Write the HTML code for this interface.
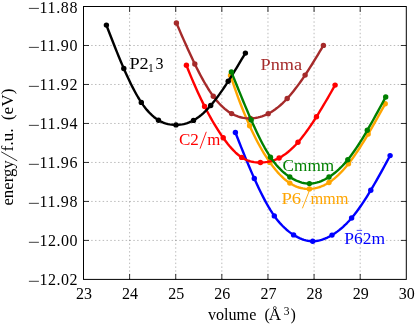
<!DOCTYPE html>
<html><head><meta charset="utf-8"><title>chart</title>
<style>
html,body{margin:0;padding:0;background:#fff;}
body{width:415px;height:326px;overflow:hidden;}
svg{display:block;}
text{font-family:"Liberation Serif",serif;font-size:16px;fill:#000;}
.g{stroke:#000;stroke-opacity:0.45;stroke-width:0.6;stroke-dasharray:1.5 2.33;fill:none;}
.t{stroke:#000;stroke-width:0.8;fill:none;}
</style></head><body>
<svg width="415" height="326" viewBox="0 0 415 326" style="will-change:transform">
<rect x="0" y="0" width="415" height="326" fill="#ffffff"/>
<line class="g" x1="129.61" y1="279.4" x2="129.61" y2="6.5"/>
<line class="g" x1="175.73" y1="279.4" x2="175.73" y2="6.5"/>
<line class="g" x1="221.84" y1="279.4" x2="221.84" y2="6.5"/>
<line class="g" x1="267.96" y1="279.4" x2="267.96" y2="6.5"/>
<line class="g" x1="314.07" y1="279.4" x2="314.07" y2="6.5"/>
<line class="g" x1="360.19" y1="279.4" x2="360.19" y2="6.5"/>
<line class="g" x1="83.5" y1="45.49" x2="406.3" y2="45.49"/>
<line class="g" x1="83.5" y1="84.47" x2="406.3" y2="84.47"/>
<line class="g" x1="83.5" y1="123.46" x2="406.3" y2="123.46"/>
<line class="g" x1="83.5" y1="162.44" x2="406.3" y2="162.44"/>
<line class="g" x1="83.5" y1="201.43" x2="406.3" y2="201.43"/>
<line class="g" x1="83.5" y1="240.41" x2="406.3" y2="240.41"/>
<path d="M235.40,132.50 L237.36,137.49 L239.32,142.46 L241.27,147.39 L243.23,152.26 L245.19,157.09 L247.15,161.84 L249.11,166.52 L251.07,171.12 L253.02,175.62 L254.98,180.02 L256.94,184.31 L258.90,188.47 L260.86,192.50 L262.82,196.39 L264.77,200.14 L266.73,203.72 L268.69,207.13 L270.65,210.37 L272.61,213.42 L274.56,216.27 L276.52,218.93 L278.48,221.38 L280.44,223.66 L282.40,225.76 L284.36,227.69 L286.31,229.47 L288.27,231.11 L290.23,232.61 L292.19,233.98 L294.15,235.24 L296.11,236.39 L298.06,237.42 L300.02,238.33 L301.98,239.13 L303.94,239.80 L305.90,240.34 L307.85,240.76 L309.81,241.04 L311.77,241.18 L313.73,241.18 L315.69,241.05 L317.65,240.78 L319.60,240.37 L321.56,239.85 L323.52,239.20 L325.48,238.43 L327.44,237.55 L329.39,236.57 L331.35,235.48 L333.31,234.29 L335.27,233.01 L337.23,231.62 L339.19,230.13 L341.14,228.53 L343.10,226.81 L345.06,224.98 L347.02,223.04 L348.98,220.97 L350.94,218.77 L352.89,216.45 L354.85,214.01 L356.81,211.44 L358.77,208.76 L360.73,205.98 L362.68,203.09 L364.64,200.11 L366.60,197.05 L368.56,193.90 L370.52,190.67 L372.48,187.38 L374.43,184.02 L376.39,180.60 L378.35,177.13 L380.31,173.62 L382.27,170.07 L384.23,166.49 L386.18,162.88 L388.14,159.25 L390.10,155.60" fill="none" stroke="#0000ff" stroke-width="2.4" stroke-linejoin="round" stroke-linecap="butt"/>
<circle cx="235.4" cy="132.5" r="2.7" fill="#0000ff"/>
<circle cx="254.3" cy="178.5" r="2.7" fill="#0000ff"/>
<circle cx="274.3" cy="215.9" r="2.7" fill="#0000ff"/>
<circle cx="293.6" cy="234.9" r="2.7" fill="#0000ff"/>
<circle cx="312.7" cy="241.2" r="2.7" fill="#0000ff"/>
<circle cx="332.0" cy="235.1" r="2.7" fill="#0000ff"/>
<circle cx="351.6" cy="218.0" r="2.7" fill="#0000ff"/>
<circle cx="370.8" cy="190.2" r="2.7" fill="#0000ff"/>
<circle cx="390.1" cy="155.6" r="2.7" fill="#0000ff"/>
<path d="M230.50,75.50 L232.46,81.40 L234.42,87.12 L236.37,92.66 L238.33,98.04 L240.29,103.24 L242.25,108.27 L244.21,113.14 L246.17,117.85 L248.12,122.39 L250.08,126.76 L252.04,130.98 L254.00,135.04 L255.96,138.95 L257.92,142.70 L259.87,146.30 L261.83,149.74 L263.79,153.04 L265.75,156.19 L267.71,159.20 L269.66,162.07 L271.62,164.79 L273.58,167.37 L275.54,169.80 L277.50,172.09 L279.46,174.24 L281.41,176.24 L283.37,178.09 L285.33,179.79 L287.29,181.34 L289.25,182.73 L291.21,183.98 L293.16,185.07 L295.12,186.02 L297.08,186.82 L299.04,187.49 L301.00,188.03 L302.95,188.43 L304.91,188.71 L306.87,188.87 L308.83,188.91 L310.79,188.84 L312.75,188.65 L314.70,188.35 L316.66,187.94 L318.62,187.40 L320.58,186.75 L322.54,185.97 L324.49,185.06 L326.45,184.03 L328.41,182.87 L330.37,181.58 L332.33,180.16 L334.29,178.62 L336.24,176.94 L338.20,175.14 L340.16,173.22 L342.12,171.18 L344.08,169.01 L346.04,166.73 L347.99,164.34 L349.95,161.83 L351.91,159.21 L353.87,156.49 L355.83,153.67 L357.78,150.76 L359.74,147.77 L361.70,144.69 L363.66,141.55 L365.62,138.33 L367.58,135.06 L369.53,131.72 L371.49,128.34 L373.45,124.92 L375.41,121.46 L377.37,117.97 L379.33,114.45 L381.28,110.91 L383.24,107.36 L385.20,103.80" fill="none" stroke="#ffa500" stroke-width="2.4" stroke-linejoin="round" stroke-linecap="butt"/>
<circle cx="230.5" cy="75.5" r="2.7" fill="#ffa500"/>
<circle cx="249.6" cy="125.7" r="2.7" fill="#ffa500"/>
<circle cx="269.9" cy="162.4" r="2.7" fill="#ffa500"/>
<circle cx="289.8" cy="183.1" r="2.7" fill="#ffa500"/>
<circle cx="309.4" cy="188.9" r="2.7" fill="#ffa500"/>
<circle cx="329.0" cy="182.5" r="2.7" fill="#ffa500"/>
<circle cx="348.5" cy="163.7" r="2.7" fill="#ffa500"/>
<circle cx="368.2" cy="134.0" r="2.7" fill="#ffa500"/>
<circle cx="385.2" cy="103.8" r="2.7" fill="#ffa500"/>
<path d="M186.40,65.30 L188.28,70.03 L190.16,74.65 L192.05,79.16 L193.93,83.56 L195.81,87.85 L197.69,92.02 L199.58,96.09 L201.46,100.04 L203.34,103.89 L205.22,107.62 L207.11,111.25 L208.99,114.76 L210.87,118.17 L212.75,121.47 L214.63,124.66 L216.52,127.74 L218.40,130.71 L220.28,133.57 L222.16,136.33 L224.05,138.98 L225.93,141.51 L227.81,143.93 L229.69,146.22 L231.57,148.38 L233.46,150.40 L235.34,152.27 L237.22,153.99 L239.10,155.54 L240.99,156.92 L242.87,158.13 L244.75,159.16 L246.63,160.03 L248.52,160.75 L250.40,161.33 L252.28,161.78 L254.16,162.11 L256.04,162.33 L257.93,162.46 L259.81,162.50 L261.69,162.47 L263.57,162.36 L265.46,162.18 L267.34,161.91 L269.22,161.55 L271.10,161.10 L272.98,160.54 L274.87,159.89 L276.75,159.12 L278.63,158.24 L280.51,157.24 L282.40,156.11 L284.28,154.87 L286.16,153.51 L288.04,152.04 L289.93,150.44 L291.81,148.73 L293.69,146.91 L295.57,144.97 L297.45,142.92 L299.34,140.75 L301.22,138.48 L303.10,136.11 L304.98,133.64 L306.87,131.07 L308.75,128.42 L310.63,125.69 L312.51,122.88 L314.39,120.00 L316.28,117.05 L318.16,114.05 L320.04,110.98 L321.92,107.87 L323.81,104.71 L325.69,101.51 L327.57,98.28 L329.45,95.01 L331.34,91.73 L333.22,88.42 L335.10,85.10" fill="none" stroke="#ff0000" stroke-width="2.4" stroke-linejoin="round" stroke-linecap="butt"/>
<circle cx="186.4" cy="65.3" r="2.7" fill="#ff0000"/>
<circle cx="204.6" cy="106.4" r="2.7" fill="#ff0000"/>
<circle cx="223.2" cy="137.8" r="2.7" fill="#ff0000"/>
<circle cx="241.7" cy="157.4" r="2.7" fill="#ff0000"/>
<circle cx="260.4" cy="162.5" r="2.7" fill="#ff0000"/>
<circle cx="279.1" cy="158.0" r="2.7" fill="#ff0000"/>
<circle cx="298.0" cy="142.3" r="2.7" fill="#ff0000"/>
<circle cx="316.5" cy="116.7" r="2.7" fill="#ff0000"/>
<circle cx="335.1" cy="85.1" r="2.7" fill="#ff0000"/>
<path d="M176.40,23.00 L178.26,27.32 L180.12,31.62 L181.98,35.90 L183.84,40.14 L185.70,44.35 L187.56,48.50 L189.43,52.59 L191.29,56.61 L193.15,60.56 L195.01,64.43 L196.87,68.20 L198.73,71.88 L200.59,75.45 L202.45,78.90 L204.31,82.23 L206.17,85.42 L208.03,88.48 L209.89,91.39 L211.75,94.14 L213.62,96.73 L215.48,99.14 L217.34,101.40 L219.20,103.48 L221.06,105.42 L222.92,107.20 L224.78,108.83 L226.64,110.31 L228.50,111.66 L230.36,112.87 L232.22,113.95 L234.08,114.90 L235.94,115.73 L237.81,116.44 L239.67,117.03 L241.53,117.51 L243.39,117.89 L245.25,118.16 L247.11,118.33 L248.97,118.41 L250.83,118.39 L252.69,118.28 L254.55,118.08 L256.41,117.79 L258.27,117.41 L260.13,116.93 L261.99,116.35 L263.86,115.67 L265.72,114.89 L267.58,114.02 L269.44,113.04 L271.30,111.95 L273.16,110.76 L275.02,109.47 L276.88,108.08 L278.74,106.59 L280.60,104.99 L282.46,103.29 L284.32,101.49 L286.18,99.58 L288.05,97.58 L289.91,95.47 L291.77,93.27 L293.63,90.98 L295.49,88.60 L297.35,86.14 L299.21,83.60 L301.07,80.99 L302.93,78.31 L304.79,75.56 L306.65,72.75 L308.51,69.88 L310.37,66.96 L312.24,64.00 L314.10,60.98 L315.96,57.93 L317.82,54.84 L319.68,51.72 L321.54,48.57 L323.40,45.40" fill="none" stroke="#a52a2a" stroke-width="2.4" stroke-linejoin="round" stroke-linecap="butt"/>
<circle cx="176.4" cy="23.0" r="2.7" fill="#a52a2a"/>
<circle cx="194.8" cy="64.0" r="2.7" fill="#a52a2a"/>
<circle cx="213.3" cy="96.3" r="2.7" fill="#a52a2a"/>
<circle cx="231.6" cy="113.6" r="2.7" fill="#a52a2a"/>
<circle cx="250.4" cy="118.4" r="2.7" fill="#a52a2a"/>
<circle cx="268.2" cy="113.7" r="2.7" fill="#a52a2a"/>
<circle cx="287.2" cy="98.5" r="2.7" fill="#a52a2a"/>
<circle cx="305.1" cy="75.1" r="2.7" fill="#a52a2a"/>
<circle cx="323.4" cy="45.4" r="2.7" fill="#a52a2a"/>
<path d="M106.40,25.10 L108.16,29.70 L109.92,34.27 L111.68,38.80 L113.44,43.30 L115.20,47.75 L116.96,52.14 L118.72,56.46 L120.48,60.71 L122.24,64.87 L123.99,68.95 L125.75,72.92 L127.51,76.79 L129.27,80.54 L131.03,84.16 L132.79,87.66 L134.55,91.01 L136.31,94.21 L138.07,97.25 L139.83,100.13 L141.59,102.83 L143.35,105.36 L145.11,107.70 L146.87,109.88 L148.63,111.88 L150.39,113.72 L152.15,115.40 L153.91,116.93 L155.67,118.30 L157.43,119.52 L159.18,120.60 L160.94,121.54 L162.70,122.35 L164.46,123.04 L166.22,123.60 L167.98,124.06 L169.74,124.41 L171.50,124.66 L173.26,124.82 L175.02,124.89 L176.78,124.89 L178.54,124.81 L180.30,124.65 L182.06,124.40 L183.82,124.07 L185.58,123.64 L187.34,123.11 L189.10,122.47 L190.86,121.73 L192.62,120.87 L194.37,119.90 L196.13,118.81 L197.89,117.60 L199.65,116.27 L201.41,114.84 L203.17,113.29 L204.93,111.64 L206.69,109.88 L208.45,108.02 L210.21,106.06 L211.97,104.01 L213.73,101.86 L215.49,99.62 L217.25,97.29 L219.01,94.90 L220.77,92.42 L222.53,89.88 L224.29,87.28 L226.05,84.63 L227.81,81.91 L229.56,79.16 L231.32,76.36 L233.08,73.53 L234.84,70.66 L236.60,67.77 L238.36,64.85 L240.12,61.93 L241.88,58.99 L243.64,56.04 L245.40,53.10" fill="none" stroke="#000000" stroke-width="2.4" stroke-linejoin="round" stroke-linecap="butt"/>
<circle cx="106.4" cy="25.1" r="2.7" fill="#000000"/>
<circle cx="123.8" cy="68.5" r="2.7" fill="#000000"/>
<circle cx="141.3" cy="102.4" r="2.7" fill="#000000"/>
<circle cx="158.5" cy="120.2" r="2.7" fill="#000000"/>
<circle cx="176.0" cy="124.9" r="2.7" fill="#000000"/>
<circle cx="193.5" cy="120.4" r="2.7" fill="#000000"/>
<circle cx="210.7" cy="105.5" r="2.7" fill="#000000"/>
<circle cx="228.2" cy="81.3" r="2.7" fill="#000000"/>
<circle cx="245.4" cy="53.1" r="2.7" fill="#000000"/>
<path d="M231.40,72.00 L233.35,76.84 L235.31,81.68 L237.26,86.53 L239.21,91.36 L241.17,96.16 L243.12,100.93 L245.07,105.65 L247.03,110.30 L248.98,114.89 L250.93,119.39 L252.88,123.79 L254.84,128.09 L256.79,132.26 L258.74,136.31 L260.70,140.21 L262.65,143.95 L264.60,147.53 L266.56,150.93 L268.51,154.14 L270.46,157.15 L272.42,159.94 L274.37,162.53 L276.32,164.93 L278.28,167.14 L280.23,169.18 L282.18,171.06 L284.14,172.78 L286.09,174.36 L288.04,175.80 L289.99,177.13 L291.95,178.33 L293.90,179.42 L295.85,180.39 L297.81,181.24 L299.76,181.96 L301.71,182.56 L303.67,183.02 L305.62,183.35 L307.57,183.55 L309.53,183.60 L311.48,183.51 L313.43,183.29 L315.39,182.93 L317.34,182.44 L319.29,181.82 L321.25,181.08 L323.20,180.22 L325.15,179.25 L327.11,178.16 L329.06,176.96 L331.01,175.66 L332.96,174.25 L334.92,172.73 L336.87,171.10 L338.82,169.35 L340.78,167.47 L342.73,165.48 L344.68,163.36 L346.64,161.10 L348.59,158.72 L350.54,156.20 L352.50,153.56 L354.45,150.81 L356.40,147.94 L358.36,144.97 L360.31,141.91 L362.26,138.76 L364.22,135.54 L366.17,132.24 L368.12,128.88 L370.07,125.46 L372.03,121.99 L373.98,118.49 L375.93,114.95 L377.89,111.38 L379.84,107.79 L381.79,104.20 L383.75,100.60 L385.70,97.00" fill="none" stroke="#008000" stroke-width="2.4" stroke-linejoin="round" stroke-linecap="butt"/>
<circle cx="231.4" cy="72.0" r="2.7" fill="#008000"/>
<circle cx="251.2" cy="120.0" r="2.7" fill="#008000"/>
<circle cx="270.5" cy="157.2" r="2.7" fill="#008000"/>
<circle cx="289.8" cy="177.0" r="2.7" fill="#008000"/>
<circle cx="309.4" cy="183.6" r="2.7" fill="#008000"/>
<circle cx="329.0" cy="177.0" r="2.7" fill="#008000"/>
<circle cx="347.8" cy="159.7" r="2.7" fill="#008000"/>
<circle cx="367.3" cy="130.3" r="2.7" fill="#008000"/>
<circle cx="385.7" cy="97.0" r="2.7" fill="#008000"/>
<rect x="83.5" y="6.5" width="322.8" height="272.9" fill="none" stroke="#000" stroke-width="1"/>
<line class="t" x1="129.61" y1="279.4" x2="129.61" y2="273.9"/>
<line class="t" x1="129.61" y1="6.5" x2="129.61" y2="12.0"/>
<line class="t" x1="83.5" y1="45.49" x2="89.0" y2="45.49"/>
<line class="t" x1="406.3" y1="45.49" x2="400.8" y2="45.49"/>
<line class="t" x1="175.73" y1="279.4" x2="175.73" y2="273.9"/>
<line class="t" x1="175.73" y1="6.5" x2="175.73" y2="12.0"/>
<line class="t" x1="83.5" y1="84.47" x2="89.0" y2="84.47"/>
<line class="t" x1="406.3" y1="84.47" x2="400.8" y2="84.47"/>
<line class="t" x1="221.84" y1="279.4" x2="221.84" y2="273.9"/>
<line class="t" x1="221.84" y1="6.5" x2="221.84" y2="12.0"/>
<line class="t" x1="83.5" y1="123.46" x2="89.0" y2="123.46"/>
<line class="t" x1="406.3" y1="123.46" x2="400.8" y2="123.46"/>
<line class="t" x1="267.96" y1="279.4" x2="267.96" y2="273.9"/>
<line class="t" x1="267.96" y1="6.5" x2="267.96" y2="12.0"/>
<line class="t" x1="83.5" y1="162.44" x2="89.0" y2="162.44"/>
<line class="t" x1="406.3" y1="162.44" x2="400.8" y2="162.44"/>
<line class="t" x1="314.07" y1="279.4" x2="314.07" y2="273.9"/>
<line class="t" x1="314.07" y1="6.5" x2="314.07" y2="12.0"/>
<line class="t" x1="83.5" y1="201.43" x2="89.0" y2="201.43"/>
<line class="t" x1="406.3" y1="201.43" x2="400.8" y2="201.43"/>
<line class="t" x1="360.19" y1="279.4" x2="360.19" y2="273.9"/>
<line class="t" x1="360.19" y1="6.5" x2="360.19" y2="12.0"/>
<line class="t" x1="83.5" y1="240.41" x2="89.0" y2="240.41"/>
<line class="t" x1="406.3" y1="240.41" x2="400.8" y2="240.41"/>
<text x="84.00" y="299.2" text-anchor="middle">23</text>
<text x="130.11" y="299.2" text-anchor="middle">24</text>
<text x="176.23" y="299.2" text-anchor="middle">25</text>
<text x="222.34" y="299.2" text-anchor="middle">26</text>
<text x="268.46" y="299.2" text-anchor="middle">27</text>
<text x="314.57" y="299.2" text-anchor="middle">28</text>
<text x="360.69" y="299.2" text-anchor="middle">29</text>
<text x="406.80" y="299.2" text-anchor="middle">30</text>
<text x="39.5" y="12.50" textLength="38" lengthAdjust="spacing">11.88</text>
<line x1="28.9" y1="8.40" x2="38.9" y2="8.40" stroke="#000" stroke-width="0.75"/>
<text x="39.5" y="51.49" textLength="38" lengthAdjust="spacing">11.90</text>
<line x1="28.9" y1="47.39" x2="38.9" y2="47.39" stroke="#000" stroke-width="0.75"/>
<text x="39.5" y="90.47" textLength="38" lengthAdjust="spacing">11.92</text>
<line x1="28.9" y1="86.37" x2="38.9" y2="86.37" stroke="#000" stroke-width="0.75"/>
<text x="39.5" y="129.46" textLength="38" lengthAdjust="spacing">11.94</text>
<line x1="28.9" y1="125.36" x2="38.9" y2="125.36" stroke="#000" stroke-width="0.75"/>
<text x="39.5" y="168.44" textLength="38" lengthAdjust="spacing">11.96</text>
<line x1="28.9" y1="164.34" x2="38.9" y2="164.34" stroke="#000" stroke-width="0.75"/>
<text x="39.5" y="207.43" textLength="38" lengthAdjust="spacing">11.98</text>
<line x1="28.9" y1="203.33" x2="38.9" y2="203.33" stroke="#000" stroke-width="0.75"/>
<text x="39.5" y="246.41" textLength="38" lengthAdjust="spacing">12.00</text>
<line x1="28.9" y1="242.31" x2="38.9" y2="242.31" stroke="#000" stroke-width="0.75"/>
<text x="39.5" y="285.40" textLength="38" lengthAdjust="spacing">12.02</text>
<line x1="28.9" y1="281.30" x2="38.9" y2="281.30" stroke="#000" stroke-width="0.75"/>
<text x="208" y="320" textLength="48.3" lengthAdjust="spacingAndGlyphs">volume</text>
<text x="264.6" y="320">(</text>
<text x="268.7" y="320" textLength="12.4" lengthAdjust="spacingAndGlyphs">Å</text>
<text x="283.7" y="314.7" style="font-size:11.5px">3</text>
<text x="290.5" y="320">)</text>
<text transform="translate(13.1,205.6) rotate(-90)" x="0" y="0" textLength="45.3" lengthAdjust="spacingAndGlyphs">energy</text>
<line x1="17.2" y1="160.8" x2="1.2" y2="151.8" stroke="#000" stroke-width="0.8"/>
<text transform="translate(13.1,151.6) rotate(-90)" x="0" y="0" textLength="23.3" lengthAdjust="spacingAndGlyphs">f.u.</text>
<text transform="translate(13.1,120.2) rotate(-90)" x="0" y="0" textLength="31.6" lengthAdjust="spacingAndGlyphs">(eV)</text>
<text x="129.4" y="68.6" textLength="19.3" lengthAdjust="spacingAndGlyphs">P2</text>
<text x="147.9" y="72" style="font-size:11.5px">1</text>
<text x="155.4" y="68.6">3</text>
<text x="260.5" y="70.1" textLength="41.5" lengthAdjust="spacingAndGlyphs" style="fill:#a52a2a">Pnma</text>
<text x="179.0" y="144.5" textLength="19.9" lengthAdjust="spacingAndGlyphs" style="fill:#ff0000">C2</text>
<line x1="200.0" y1="148.7" x2="206.3" y2="131.8" stroke="#ff0000" stroke-width="0.9"/>
<text x="207.2" y="144.5" textLength="13.1" lengthAdjust="spacingAndGlyphs" style="fill:#ff0000">m</text>
<text x="282.6" y="170.6" textLength="51.6" lengthAdjust="spacingAndGlyphs" style="fill:#008000">Cmmm</text>
<text x="281.4" y="203.5" textLength="19.8" lengthAdjust="spacingAndGlyphs" style="fill:#ffa500">P6</text>
<line x1="302.4" y1="208.3" x2="309.3" y2="190.8" stroke="#ffa500" stroke-width="0.9"/>
<text x="310.4" y="203.5" textLength="38.2" lengthAdjust="spacingAndGlyphs" style="fill:#ffa500">mmm</text>
<text x="344.3" y="243.5" textLength="40.8" lengthAdjust="spacingAndGlyphs" style="fill:#0000ff">P62m</text>
<line x1="356.7" y1="230.4" x2="362.1" y2="230.4" stroke="#0000ff" stroke-width="0.7"/>
</svg></body></html>
